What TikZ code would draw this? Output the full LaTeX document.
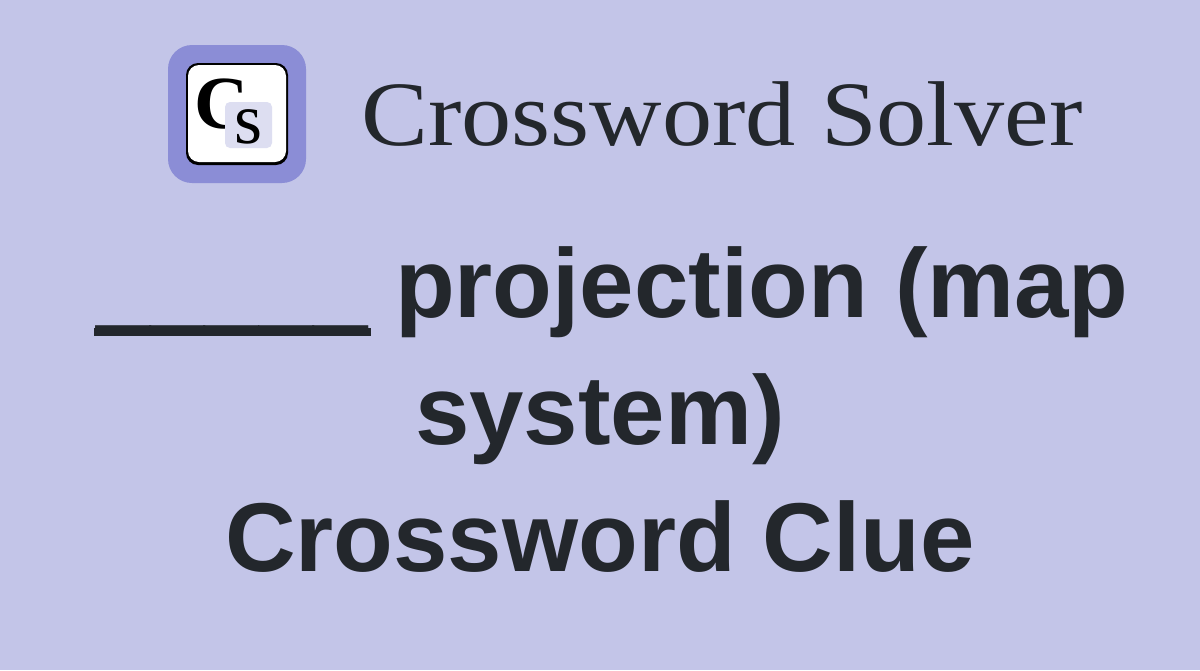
\documentclass[tikz,border=0pt]{standalone}
\usepackage{fontspec}
\setmainfont{Liberation Sans}
\newfontfamily\seriffont{Liberation Serif}
\newfontfamily\brandfont[FakeStretch=1.09]{Liberation Serif}
\definecolor{bgc}{HTML}{C3C5E8}
\definecolor{iconc}{HTML}{8B8DD6}
\definecolor{inkc}{HTML}{23272C}
\definecolor{chipc}{HTML}{DDDEF1}
\tikzset{headline/.style={text=inkc,font=\fontsize{97.8}{97.8}\selectfont\bfseries,anchor=base,inner sep=0pt}}
\begin{document}
\begin{tikzpicture}[x=1pt,y=-1pt,line width=1pt]
\useasboundingbox (0,0) rectangle (1200,670);
\fill[bgc] (0,0) rectangle (1200,670);
\fill[iconc,rounded corners=24] (168,45) rectangle (306,183);
\fill[black,rounded corners=12] (186,63) rectangle (288,165);
\fill[white,rounded corners=11] (188,65) rectangle (286,162);
\node[inner sep=0pt,anchor=base,text=black,font=\seriffont\bfseries\fontsize{75}{75}\selectfont] (c) at (222,128.5) {C};
\fill[chipc,rounded corners=5] (225,102) rectangle (272,148);
\node[inner sep=0pt,anchor=base,text=black,font=\seriffont\fontsize{72}{72}\selectfont] (s) at (249,143) {s};
\node[inner sep=0pt,anchor=base west,text=inkc,font=\brandfont\fontsize{92}{92}\selectfont] (brand) at (361,145) {Crossword Solver};
\node[headline] (l1) at (612.5,317) {\_\_\_\_\_ projection (map};
\fill[inkc] (94,328) rectangle (371,335.5);
\node[headline] (l2) at (600,444.5) {system)};
\node[headline] (l3) at (600,571) {Crossword Clue};
\end{tikzpicture}
\end{document}
